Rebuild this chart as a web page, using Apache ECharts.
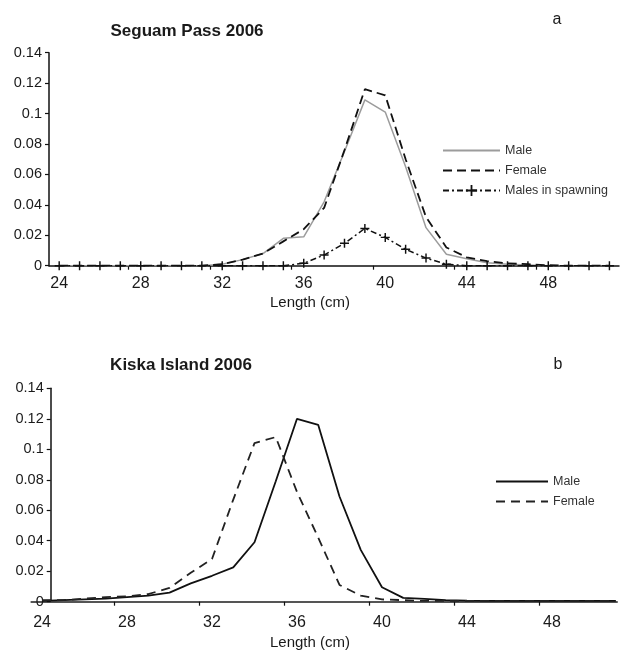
<!DOCTYPE html>
<html>
<head>
<meta charset="utf-8">
<script src="https://cdn.jsdelivr.net/npm/echarts@6/dist/echarts.min.js"></script>
<style>
  html, body { margin: 0; padding: 0; background: #fff; }
  #chartA { width: 620px; height: 320px; }
  #chartB { width: 620px; height: 334px; }
</style>
</head>
<body>
<div id="chartA"></div>
<div id="chartB"></div>
<script>
// length classes (cm)
var lengths = [24, 25, 26, 27, 28, 29, 30, 31, 32, 33, 34, 35, 36, 37,
  38, 39, 40, 41, 42, 43, 44, 45, 46, 47, 48, 49, 50, 51];
var xLabels = [24, 28, 32, 36, 40, 44, 48];
var xTicks = [27.4, 31.4, 35.4, 39.4, 43.4, 47.4];

// a - Seguam Pass 2006
var seguamMale = [0, 0, 0, 0, 0, 0, 0, 0, 0.001, 0.004, 0.008, 0.018, 0.019, 0.042,
  0.075, 0.109, 0.101, 0.065, 0.025, 0.0075, 0.0045, 0.002, 0.001, 0.0005, 0, 0, 0, 0];
var seguamFemale = [0, 0, 0, 0, 0, 0, 0, 0, 0.001, 0.004, 0.008, 0.016, 0.024, 0.038,
  0.076, 0.116, 0.112, 0.07, 0.032, 0.012, 0.0055, 0.003, 0.0015, 0.001, 0.0003, 0, 0, 0];
var seguamSpawning = [0, 0, 0, 0, 0, 0, 0, 0, 0, 0, 0, 0, 0.0016, 0.007,
  0.0147, 0.0245, 0.0186, 0.0108, 0.005, 0.001, 0, 0, 0, 0, 0, 0, 0, 0];

// b - Kiska Island 2006
var kiskaMale = [0.0005, 0.001, 0.0015, 0.002, 0.003, 0.004, 0.006, 0.012, 0.017, 0.0225, 0.039, 0.079, 0.12, 0.116,
  0.069, 0.034, 0.0095, 0.0025, 0.0018, 0.001, 0.0007, 0.0005, 0.0005, 0.0005, 0.0005, 0.0005, 0.0005, 0.0005];
var kiskaFemale = [0.001, 0.001, 0.002, 0.003, 0.0035, 0.005, 0.009, 0.019, 0.028, 0.067, 0.104, 0.108, 0.072, 0.042,
  0.011, 0.004, 0.0015, 0.001, 0.0005, 0.0005, 0.0005, 0.0005, 0.0005, 0.0005, 0.0005, 0.0005, 0.0005, 0.0005];

var font = '"Liberation Sans", Arial, sans-serif';
var ink = '#111';
var plusSymbol = 'path://M4.2,0H5.8V4.2H10V5.8H5.8V10H4.2V5.8H0V4.2H4.2Z';

function pairs(ys) {
  return lengths.map(function (x, i) { return [x, ys[i]]; });
}

function label(text, x, y, size, bold) {
  return {
    text: text, left: x, top: y, padding: 0,
    textAlign: 'center', textVerticalAlign: 'middle',
    textStyle: { fontFamily: font, fontSize: size, fontWeight: bold ? 'bold' : 'normal', color: '#1a1a1a' }
  };
}

// legend entry with line only (no symbol in the middle)
function lineOnly(name) {
  return { name: name, itemStyle: { opacity: 0 } };
}

function xAxis(min, max, margin, lineColor, lineWidth) {
  return {
    type: 'value', min: min, max: max,
    axisLine: { lineStyle: { color: lineColor, width: lineWidth } },
    axisTick: { show: true, customValues: xTicks, length: 4, lineStyle: { color: ink, width: 1.2 } },
    axisLabel: { customValues: xLabels, fontSize: 16, color: '#1a1a1a', fontFamily: font, margin: margin },
    splitLine: { show: false }
  };
}

function yAxis(offset) {
  return {
    type: 'value', min: 0, max: 0.14, interval: 0.02, offset: offset,
    axisLine: { show: true, lineStyle: { color: ink, width: 1.5 } },
    axisTick: { show: true, length: 4, lineStyle: { color: ink, width: 1.2 } },
    axisLabel: { fontSize: 14.5, color: '#1a1a1a', fontFamily: font, margin: 7 },
    splitLine: { show: false }
  };
}

var chartA = echarts.init(document.getElementById('chartA'));
chartA.setOption({
  animation: false,
  title: [
    label('Seguam Pass 2006', 187, 31, 17, true),
    label('a', 557, 20, 16, false),
    label('Length (cm)', 310, 303, 15, false)
  ],
  legend: {
    orient: 'vertical', left: 442, top: 144, padding: 0,
    itemWidth: 57, itemHeight: 14, itemGap: 7,
    textStyle: { fontFamily: font, fontSize: 12.5, color: '#333' },
    data: [lineOnly('Male'), lineOnly('Female'), 'Males in spawning']
  },
  grid: { left: 49, top: 52.7, width: 570, height: 213 },
  xAxis: xAxis(23.5, 51.47, 10, ink, 1.5),
  yAxis: yAxis(0),
  series: [
    {
      name: 'Male', type: 'line', symbol: 'none',
      lineStyle: { color: '#9c9c9c', width: 1.5 },
      itemStyle: { color: '#9c9c9c' },
      data: pairs(seguamMale)
    },
    {
      name: 'Female', type: 'line', symbol: 'none',
      lineStyle: { color: ink, width: 1.8, type: [9, 5] },
      itemStyle: { color: ink },
      data: pairs(seguamFemale)
    },
    {
      name: 'Males in spawning', type: 'line',
      symbol: plusSymbol, symbolSize: 9,
      lineStyle: { color: ink, width: 1.5, type: [6, 3, 2, 3] },
      itemStyle: { color: ink },
      data: pairs(seguamSpawning)
    }
  ]
});

var chartB = echarts.init(document.getElementById('chartB'));
chartB.setOption({
  animation: false,
  title: [
    label('Kiska Island 2006', 181, 45, 17, true),
    label('b', 558, 45, 16, false),
    label('Length (cm)', 310, 323, 15, false)
  ],
  legend: {
    orient: 'vertical', left: 495, top: 155, padding: 0,
    itemWidth: 52, itemHeight: 14, itemGap: 7,
    textStyle: { fontFamily: font, fontSize: 12.5, color: '#333' },
    data: [lineOnly('Male'), lineOnly('Female')]
  },
  grid: { left: 31.4, top: 68.3, width: 585.6, height: 213.4 },
  xAxis: xAxis(23.5, 51.06, 13, '#555', 2),
  // y axis sits right of the grid edge, as in the original
  yAxis: yAxis(-19.3),
  series: [
    {
      name: 'Male', type: 'line', symbol: 'none',
      lineStyle: { color: ink, width: 1.8 },
      itemStyle: { color: ink },
      data: pairs(kiskaMale)
    },
    {
      name: 'Female', type: 'line', symbol: 'none',
      lineStyle: { color: '#222', width: 1.8, type: [9, 6] },
      itemStyle: { color: '#222' },
      data: pairs(kiskaFemale)
    }
  ]
});

window.addEventListener('resize', function () {
  chartA.resize();
  chartB.resize();
});
</script>
</body>
</html>
